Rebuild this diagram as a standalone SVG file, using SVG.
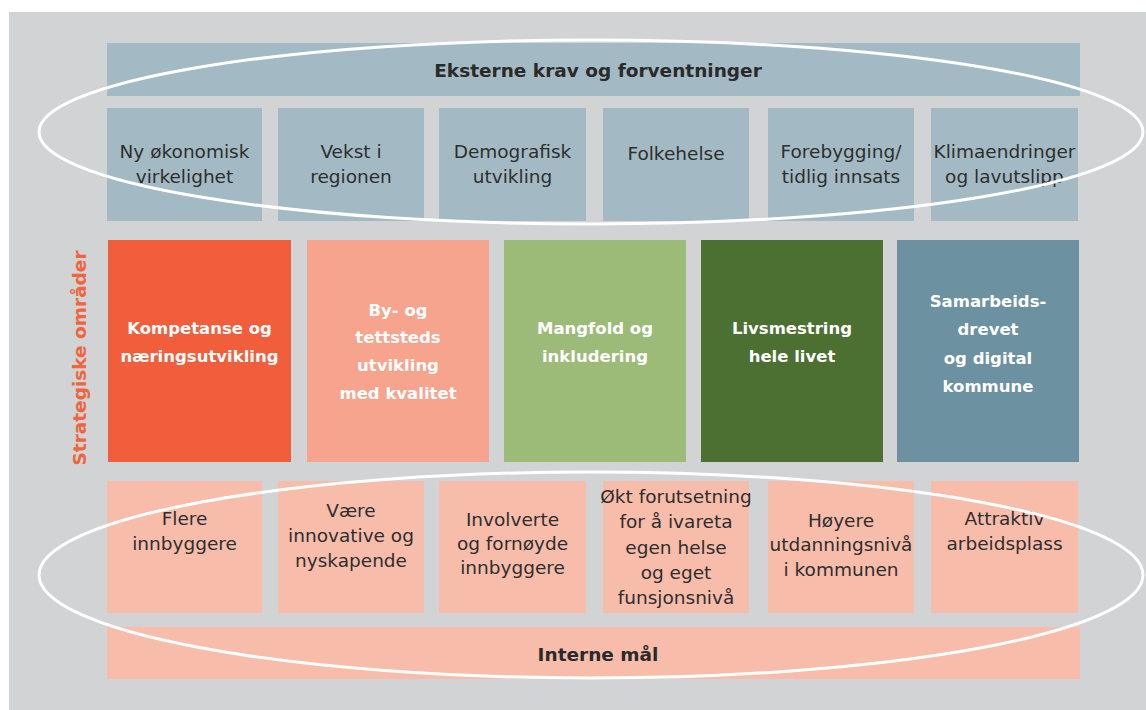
<svg xmlns="http://www.w3.org/2000/svg" width="1146" height="710" viewBox="0 0 1146 710">
<style>
.t{font-family:"DejaVu Sans","Liberation Sans",sans-serif;font-size:18.5px;fill:#2e2e2e;text-anchor:middle}
.b{font-family:"DejaVu Sans","Liberation Sans",sans-serif;font-size:18.5px;font-weight:bold;fill:#2a2a2a;text-anchor:middle}
.w{font-family:"DejaVu Sans","Liberation Sans",sans-serif;font-size:16.5px;font-weight:bold;fill:#ffffff;text-anchor:middle}
.ext{fill:#A3BAC4}
.int{fill:#F8BCAB}
.ell{fill:none;stroke:#ffffff;stroke-width:3}
</style>
<rect x="0" y="0" width="1146" height="710" fill="#ffffff"/>
<rect x="9" y="12" width="1137" height="698" fill="#D1D3D4"/>

<g id="eksterne">
<rect class="ext" x="107" y="43" width="973" height="53"/>
<text class="b" x="598" y="77">Eksterne krav og forventninger</text>
</g>
<g id="ext1"><rect class="ext" x="107" y="108" width="155" height="113"/>
<text class="t" x="184.5" y="158">Ny økonomisk</text><text class="t" x="184.5" y="183">virkelighet</text></g>
<g id="ext2"><rect class="ext" x="278" y="108" width="146" height="113"/>
<text class="t" x="351" y="158">Vekst i</text><text class="t" x="351" y="183">regionen</text></g>
<g id="ext3"><rect class="ext" x="439" y="108" width="147" height="113"/>
<text class="t" x="512.5" y="158">Demografisk</text><text class="t" x="512.5" y="183">utvikling</text></g>
<g id="ext4"><rect class="ext" x="603" y="108" width="146" height="113"/>
<text class="t" x="676" y="160">Folkehelse</text></g>
<g id="ext5"><rect class="ext" x="768" y="108" width="146" height="113"/>
<text class="t" x="841" y="158">Forebygging/</text><text class="t" x="841" y="183">tidlig innsats</text></g>
<g id="ext6"><rect class="ext" x="931" y="108" width="147" height="113"/>
<text class="t" x="1004.5" y="158">Klimaendringer</text><text class="t" x="1004.5" y="183">og lavutslipp</text></g>

<g id="strat-label">
<text x="86" y="358" transform="rotate(-90 86 358)" font-family="DejaVu Sans,Liberation Sans,sans-serif" font-size="18.5" font-weight="bold" fill="#F0643F" text-anchor="middle">Strategiske områder</text>
</g>
<g id="s1"><rect x="108" y="240" width="183" height="222" fill="#F15E3C"/>
<text class="w" x="199.5" y="334">Kompetanse og</text><text class="w" x="199.5" y="362">næringsutvikling</text></g>
<g id="s2"><rect x="307" y="240" width="182" height="222" fill="#F6A48D"/>
<text class="w" x="398" y="316">By- og</text><text class="w" x="398" y="343">tettsteds</text><text class="w" x="398" y="371">utvikling</text><text class="w" x="398" y="399">med kvalitet</text></g>
<g id="s3"><rect x="504" y="240" width="182" height="222" fill="#9CBB78"/>
<text class="w" x="595" y="334">Mangfold og</text><text class="w" x="595" y="362">inkludering</text></g>
<g id="s4"><rect x="701" y="240" width="182" height="222" fill="#4B7032"/>
<text class="w" x="792" y="334">Livsmestring</text><text class="w" x="792" y="362">hele livet</text></g>
<g id="s5"><rect x="897" y="240" width="182" height="222" fill="#6C91A1"/>
<text class="w" x="988" y="307">Samarbeids-</text><text class="w" x="988" y="335">drevet</text><text class="w" x="988" y="364">og digital</text><text class="w" x="988" y="392">kommune</text></g>

<g id="int1"><rect class="int" x="107" y="481" width="155" height="132"/>
<text class="t" x="184.5" y="525">Flere</text><text class="t" x="184.5" y="550">innbyggere</text></g>
<g id="int2"><rect class="int" x="278" y="481" width="146" height="132"/>
<text class="t" x="351" y="517">Være</text><text class="t" x="351" y="542">innovative og</text><text class="t" x="351" y="567">nyskapende</text></g>
<g id="int3"><rect class="int" x="439" y="481" width="147" height="132"/>
<text class="t" x="512.5" y="526">Involverte</text><text class="t" x="512.5" y="550">og fornøyde</text><text class="t" x="512.5" y="574">innbyggere</text></g>
<g id="int4"><rect class="int" x="603" y="481" width="146" height="132"/>
<text class="t" x="676" y="503">Økt forutsetning</text><text class="t" x="676" y="528">for å ivareta</text><text class="t" x="676" y="554">egen helse</text><text class="t" x="676" y="579">og eget</text><text class="t" x="676" y="604">funsjonsnivå</text></g>
<g id="int5"><rect class="int" x="768" y="481" width="146" height="132"/>
<text class="t" x="841" y="527">Høyere</text><text class="t" x="841" y="551">utdanningsnivå</text><text class="t" x="841" y="576">i kommunen</text></g>
<g id="int6"><rect class="int" x="931" y="481" width="147" height="132"/>
<text class="t" x="1004.5" y="525">Attraktiv</text><text class="t" x="1004.5" y="550">arbeidsplass</text></g>
<g id="interne">
<rect class="int" x="107" y="627" width="973" height="52"/>
<text class="b" x="598" y="661">Interne mål</text>
</g>

<g id="connectors">
<ellipse class="ell" cx="591" cy="132" rx="552" ry="92"/>
<ellipse class="ell" cx="591" cy="575" rx="552" ry="103"/>
</g>
</svg>
